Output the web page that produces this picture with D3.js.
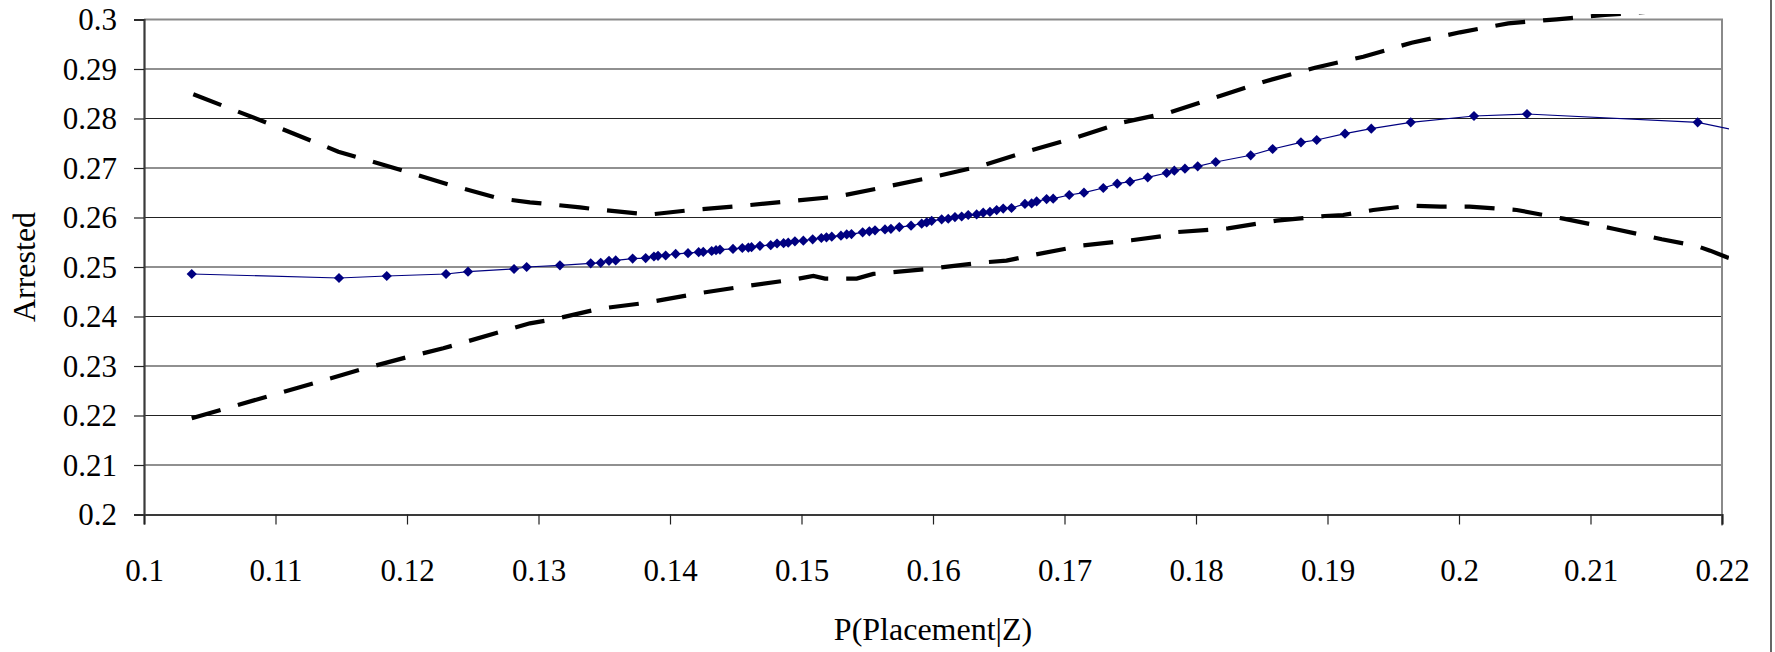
<html>

<head>
    <script src="https://d3js.org/d3.v7.min.js"></script>
    <style>
        body { margin: 0; background: #fff; }
        text { font-family: "Liberation Serif", "Times New Roman", serif; fill: #000; }
    </style>
</head>

<body>
    <svg id="chart_svg" height="652" width="1775"></svg>
    <script>
        // axis ticks
        const xTicks = [0.1, 0.11, 0.12, 0.13, 0.14, 0.15, 0.16, 0.17, 0.18, 0.19, 0.2, 0.21, 0.22];
        const xTickLabels = ["0.1", "0.11", "0.12", "0.13", "0.14", "0.15", "0.16", "0.17", "0.18", "0.19", "0.2", "0.21", "0.22"];
        const yTicks = [0.2, 0.21, 0.22, 0.23, 0.24, 0.25, 0.26, 0.27, 0.28, 0.29, 0.3];
        const yTickLabels = ["0.2", "0.21", "0.22", "0.23", "0.24", "0.25", "0.26", "0.27", "0.28", "0.29", "0.3"];

        // fitted series (blue diamonds)
        const fitX = [0.10363, 0.11483, 0.11846, 0.12297, 0.12464, 0.12814, 0.12910, 0.13163, 0.13397, 0.13473,
            0.13536, 0.13587, 0.13716, 0.13815, 0.13878, 0.13909, 0.13967, 0.14043, 0.14137, 0.14218,
            0.14253, 0.14317, 0.14350, 0.14380, 0.14479, 0.14550, 0.14596, 0.14620, 0.14684, 0.14766,
            0.14814, 0.14864, 0.14899, 0.14950, 0.15014, 0.15085, 0.15151, 0.15190, 0.15230, 0.15300,
            0.15344, 0.15380, 0.15465, 0.15516, 0.15559, 0.15635, 0.15680, 0.15744, 0.15833, 0.15914,
            0.15952, 0.15990, 0.16066, 0.16116, 0.16167, 0.16218, 0.16268, 0.16332, 0.16382, 0.16433,
            0.16484, 0.16534, 0.16597, 0.16699, 0.16750, 0.16788, 0.16864, 0.16914, 0.17036, 0.17148,
            0.17295, 0.17401, 0.17498, 0.17633, 0.17777, 0.17835, 0.17916, 0.18013, 0.18150, 0.18416,
            0.18583, 0.18798, 0.18918, 0.19133, 0.19333, 0.19633, 0.20114, 0.20517, 0.21815, 0.22220];
        const fitY = [0.24859, 0.24778, 0.24818, 0.24859, 0.24905, 0.24960, 0.25000, 0.25034, 0.25074, 0.25085,
            0.25125, 0.25132, 0.25170, 0.25180, 0.25212, 0.25225, 0.25232, 0.25265, 0.25280, 0.25300,
            0.25305, 0.25323, 0.25340, 0.25350, 0.25365, 0.25384, 0.25392, 0.25400, 0.25428, 0.25440,
            0.25475, 0.25482, 0.25492, 0.25518, 0.25532, 0.25560, 0.25586, 0.25600, 0.25613, 0.25632,
            0.25658, 0.25665, 0.25701, 0.25720, 0.25740, 0.25760, 0.25772, 0.25806, 0.25834, 0.25875,
            0.25900, 0.25932, 0.25963, 0.25975, 0.26008, 0.26020, 0.26050, 0.26062, 0.26098, 0.26112,
            0.26150, 0.26180, 0.26192, 0.26275, 0.26285, 0.26325, 0.26372, 0.26380, 0.26455, 0.26501,
            0.26596, 0.26683, 0.26724, 0.26812, 0.26899, 0.26946, 0.26986, 0.27034, 0.27121, 0.27257,
            0.27384, 0.27519, 0.27566, 0.27693, 0.27794, 0.27923, 0.28050, 0.28091, 0.27923, 0.27700];

        // upper bound (dashed)
        const upperX = [0.10375, 0.10933, 0.11478, 0.11972, 0.12327, 0.12695, 0.12935, 0.13316, 0.13430, 0.13848,
            0.14165, 0.14532, 0.14900, 0.15267, 0.15622, 0.15977, 0.16344, 0.16711, 0.17067, 0.17447,
            0.17802, 0.18182, 0.18537, 0.18905, 0.19272, 0.19640, 0.20008, 0.20375, 0.20743, 0.21110, 0.21500];
        const upperY = [0.28489, 0.27915, 0.27330, 0.26946, 0.26657, 0.26388, 0.26307, 0.26206, 0.26165, 0.26060,
            0.26152, 0.26232, 0.26327, 0.26420, 0.26610, 0.26804, 0.27026, 0.27330, 0.27600, 0.27923,
            0.28125, 0.28455, 0.28758, 0.29026, 0.29248, 0.29531, 0.29741, 0.29923, 0.30004, 0.30091, 0.30170];

        // lower bound (dashed)
        const lowerX = [0.10363, 0.10933, 0.11288, 0.11655, 0.11997, 0.12276, 0.12733, 0.12935, 0.13113, 0.13468,
            0.13823, 0.14216, 0.14583, 0.14950, 0.15090, 0.15179, 0.15420, 0.15546, 0.15660, 0.15977,
            0.16395, 0.16559, 0.16762, 0.17142, 0.17509, 0.17750, 0.17864, 0.18244, 0.18612, 0.18979,
            0.19119, 0.19348, 0.19627, 0.19860, 0.20080, 0.20439, 0.20794, 0.21174, 0.21542, 0.21808,
            0.21910, 0.22037, 0.22150];
        const lowerY = [0.21943, 0.22380, 0.22650, 0.22933, 0.23176, 0.23357, 0.23707, 0.23862, 0.23943, 0.24158,
            0.24279, 0.24468, 0.24616, 0.24751, 0.24820, 0.24765, 0.24765, 0.24860, 0.24885, 0.24966,
            0.25095, 0.25128, 0.25242, 0.25438, 0.25540, 0.25626, 0.25707, 0.25781, 0.25936, 0.26030,
            0.26050, 0.26152, 0.26238, 0.26218, 0.26218, 0.26152, 0.25976, 0.25774, 0.25560, 0.25424,
            0.25330, 0.25196, 0.25100];

        const svg = d3.select("#chart_svg");
        const width = +svg.attr("width");
        const height = +svg.attr("height");
        const margins = { "top": 19.5, "right": 53, "bottom": 137.5, "left": 144 };
        const chartWidth = width - margins.left - margins.right;
        const chartHeight = height - margins.top - margins.bottom;

        svg.append("rect").attr("width", width).attr("height", height).attr("fill", "white");

        const xScale = d3.scaleLinear().domain([0.1, 0.22]).range([margins.left, margins.left + chartWidth]);
        const yScale = d3.scaleLinear().domain([0.2, 0.3]).range([margins.top + chartHeight, margins.top]);

        // horizontal gridlines
        svg.append("g")
            .attr("class", "y gridlines")
            .selectAll("line")
            .data(yTicks.slice(1, -1))
            .join("line")
            .attr("x1", margins.left)
            .attr("x2", margins.left + chartWidth)
            .attr("y1", d => yScale(d))
            .attr("y2", d => yScale(d))
            .attr("stroke", "#222")
            .attr("stroke-width", 1.2);

        // plot border (top and right)
        svg.append("path")
            .attr("d", "M" + margins.left + "," + yScale(0.3) + "H" + xScale(0.22) + "V" + (yScale(0.2) + 11))
            .attr("fill", "none")
            .attr("stroke", "#8a8a8a")
            .attr("stroke-width", 2);

        // axes
        let leftAxis = d3.axisLeft(yScale)
            .tickValues(yTicks)
            .tickSize(10)
            .tickPadding(17)
            .tickFormat((d, i) => yTickLabels[i]);
        let yAxisG = svg.append("g")
            .attr("class", "y axis")
            .attr("transform", "translate(" + margins.left + ",0)")
            .call(leftAxis);

        let bottomAxis = d3.axisBottom(xScale)
            .tickValues(xTicks)
            .tickSize(10)
            .tickFormat((d, i) => xTickLabels[i]);
        let xAxisG = svg.append("g")
            .attr("class", "x axis")
            .attr("transform", "translate(0," + (margins.top + chartHeight) + ")")
            .call(bottomAxis);

        [yAxisG, xAxisG].forEach(g => {
            g.select(".domain").attr("stroke", "#3a3a3a").attr("stroke-width", 2.2);
            g.selectAll(".tick line").attr("stroke", "#222").attr("stroke-width", 1.2);
            g.selectAll("text")
                .attr("font-family", "'Liberation Serif', 'Times New Roman', serif")
                .attr("font-size", 31)
                .attr("fill", "black");
        });
        xAxisG.selectAll("text").attr("y", 66).attr("dy", 0);
        yAxisG.selectAll("text").attr("dy", "0.33em");

        // clip for the series
        svg.append("clipPath").attr("id", "plotClip")
            .append("rect")
            .attr("x", margins.left - 2)
            .attr("y", 14)
            .attr("width", chartWidth + 9)
            .attr("height", chartHeight + 10);

        const series = svg.append("g").attr("clip-path", "url(#plotClip)");

        const line = d3.line().x(d => xScale(d[0])).y(d => yScale(d[1]));

        const upper = upperX.map((x, i) => [x, upperY[i]]);
        const lower = lowerX.map((x, i) => [x, lowerY[i]]);
        const fit = fitX.map((x, i) => [x, fitY[i]]);

        [upper, lower].forEach(pts => {
            series.append("path")
                .datum(pts)
                .attr("d", line)
                .attr("fill", "none")
                .attr("stroke", "black")
                .attr("stroke-width", 4.2)
                .attr("stroke-dasharray", "30,18");
        });

        series.append("path")
            .datum(fit)
            .attr("d", line)
            .attr("fill", "none")
            .attr("stroke", "#000080")
            .attr("stroke-width", 1.2);

        const diamond = d3.symbol().type(d3.symbolSquare).size(52);
        series.selectAll(".marker")
            .data(fit.slice(0, -1))
            .join("path")
            .attr("class", "marker")
            .attr("d", diamond)
            .attr("transform", d => "translate(" + xScale(d[0]) + "," + yScale(d[1]) + ") rotate(45)")
            .attr("fill", "#000080");

        // axis titles
        svg.append("text")
            .attr("text-anchor", "middle")
            .attr("x", margins.left + chartWidth / 2)
            .attr("y", 640)
            .attr("font-size", 32)
            .text("P(Placement|Z)");

        svg.append("text")
            .attr("text-anchor", "middle")
            .attr("transform", "translate(35," + (margins.top + chartHeight / 2) + ") rotate(-90)")
            .attr("font-size", 32)
            .text("Arrested");

        // outer frame edge on the right
        svg.append("line")
            .attr("x1", 1771).attr("x2", 1771)
            .attr("y1", 0).attr("y2", height)
            .attr("stroke", "black")
            .attr("stroke-width", 1.2);
    </script>

</body>

</html>
